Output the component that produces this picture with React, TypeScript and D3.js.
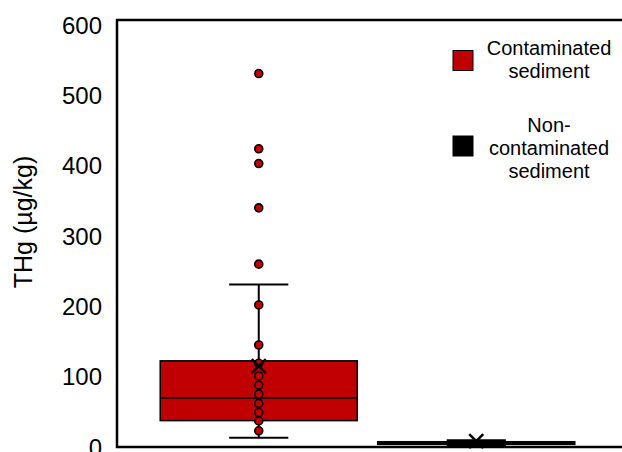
import React, { useEffect, useRef } from 'react';
import * as d3 from 'd3';

// groups and box statistics (µg/kg)
const categories = ['Contaminated sediment', 'Non-contaminated sediment'];
const boxColors = ['#c00000', '#000000'];
const whiskerLow = [13, 1.5];
const q1 = [37.5, 3.8];
const median = [69.5, 5.5];
const q3 = [122.5, 7.5];
const whiskerHigh = [231, 9.5];
const means = [115, 8.5];

// individual measurements shown for the contaminated group
const contaminatedPoints = [23, 37, 49, 62, 75, 88, 101, 119, 145, 202, 260, 340, 403, 424, 531];

const yTicks = [0, 100, 200, 300, 400, 500, 600];
const legendLines = [['Contaminated', 'sediment'], ['Non-', 'contaminated', 'sediment']];

const FONT = '"Liberation Sans", Arial, sans-serif';

const BoxChart = ({ width = 622, height = 452 }) => {
  const ref = useRef<SVGSVGElement>(null);

  useEffect(() => {
    document.body.style.margin = '0';
    const margin = { top: 20, left: 117, bottom: 5 };

    const svg = d3.select(ref.current)
      .attr('width', width)
      .attr('height', height);

    svg.selectAll('*').remove();

    const y = d3.scaleLinear()
      .domain([0, 600])
      .range([height - margin.bottom, 25]);

    const x = d3.scaleBand()
      .domain(categories)
      .range([150, 585])
      .paddingInner(0.094)
      .paddingOuter(0.047);

    const bw = x.bandwidth();
    const capW = bw * 0.3;

    // Frame (left, top, bottom)
    const y0 = y(0);
    svg.append('path')
      .attr('d', `M${width + 5},${margin.top}H${margin.left}V${y0}H${width + 5}`)
      .attr('fill', 'none')
      .attr('stroke', '#000')
      .attr('stroke-width', 2.5);

    // Y tick labels
    svg.append('g')
      .selectAll('text')
      .data(yTicks)
      .enter().append('text')
      .attr('x', 102)
      .attr('y', d => y(d))
      .attr('text-anchor', 'end')
      .attr('dominant-baseline', 'central')
      .style('font-family', FONT)
      .style('font-size', '24px')
      .text(d => d);

    // Y axis title
    svg.append('text')
      .attr('transform', `translate(23,${222}) rotate(-90)`)
      .attr('text-anchor', 'middle')
      .attr('dominant-baseline', 'central')
      .style('font-family', FONT)
      .style('font-size', '25px')
      .text('THg (µg/kg)');

    const g = svg.append('g');

    categories.forEach((cat, i) => {
      const left = x(cat) as number;
      const cx = left + bw / 2;

      // whiskers
      g.append('line')
        .attr('x1', cx).attr('x2', cx)
        .attr('y1', y(q3[i])).attr('y2', y(whiskerHigh[i]))
        .attr('stroke', '#000').attr('stroke-width', 2);
      g.append('line')
        .attr('x1', cx).attr('x2', cx)
        .attr('y1', y(q1[i])).attr('y2', y(whiskerLow[i]))
        .attr('stroke', '#000').attr('stroke-width', 2);
      [whiskerHigh[i], whiskerLow[i]].forEach(v => {
        g.append('line')
          .attr('x1', cx - capW / 2).attr('x2', cx + capW / 2)
          .attr('y1', y(v)).attr('y2', y(v))
          .attr('stroke', '#000').attr('stroke-width', 2);
      });

      // box
      g.append('rect')
        .attr('x', left)
        .attr('y', y(q3[i]))
        .attr('width', bw)
        .attr('height', y(q1[i]) - y(q3[i]))
        .attr('fill', boxColors[i])
        .attr('stroke', '#000')
        .attr('stroke-width', 1.5);

      // median
      g.append('line')
        .attr('x1', left).attr('x2', left + bw)
        .attr('y1', y(median[i])).attr('y2', y(median[i]))
        .attr('stroke', '#000').attr('stroke-width', 1.5);
    });

    // points for contaminated group
    const cx0 = (x(categories[0]) as number) + bw / 2;
    g.append('g')
      .selectAll('circle')
      .data(contaminatedPoints)
      .enter().append('circle')
      .attr('cx', cx0)
      .attr('cy', d => y(d))
      .attr('r', 4)
      .attr('fill', '#c00000')
      .attr('stroke', '#000')
      .attr('stroke-width', 1.6);

    // mean markers
    categories.forEach((cat, i) => {
      const cx = (x(cat) as number) + bw / 2;
      const cy = y(means[i]);
      const s = 7;
      g.append('path')
        .attr('d', `M${cx - s},${cy - s}L${cx + s},${cy + s}M${cx - s},${cy + s}L${cx + s},${cy - s}`)
        .attr('stroke', '#000')
        .attr('stroke-width', 2.5)
        .attr('fill', 'none');
    });

    // Legend
    const legendTops = [48, 125];
    const lineH = 23;
    legendLines.forEach((lines, i) => {
      const top = legendTops[i];
      const mid = top + (lines.length - 1) * lineH / 2;
      svg.append('rect')
        .attr('x', 453)
        .attr('y', mid - 9 + (i === 1 ? -3 : 0))
        .attr('width', 20)
        .attr('height', 20)
        .attr('fill', boxColors[i])
        .attr('stroke', '#000')
        .attr('stroke-width', 1);
      lines.forEach((t, j) => {
        svg.append('text')
          .attr('x', 549)
          .attr('y', top + j * lineH)
          .attr('text-anchor', 'middle')
          .attr('dominant-baseline', 'central')
          .style('font-family', FONT)
          .style('font-size', '20px')
          .text(t);
      });
    });
  }, [width, height]);

  return <svg ref={ref} style={{ display: 'block' }}></svg>;
};

export default function App() {
  return <BoxChart />;
}
